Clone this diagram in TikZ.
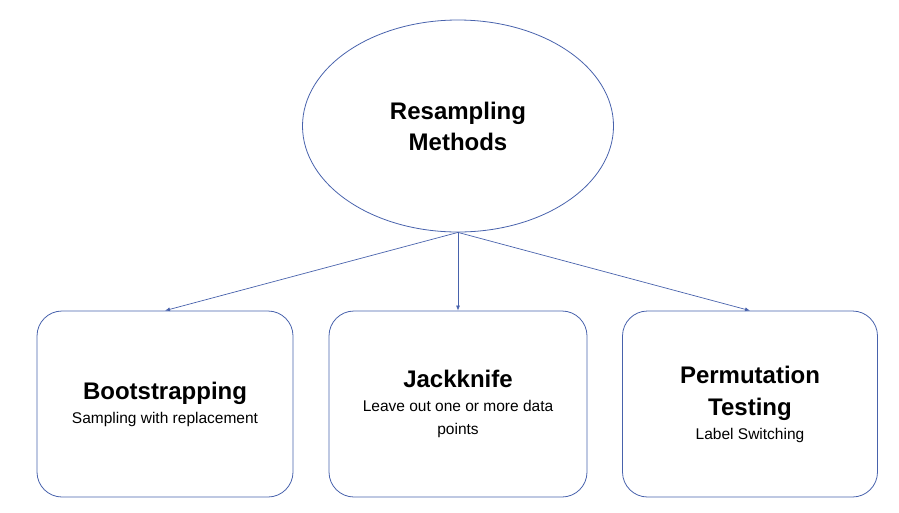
\documentclass[tikz,border=0pt]{standalone}
\usepackage{fontspec}
\setmainfont{Liberation Sans}
\usetikzlibrary{arrows.meta, shapes.geometric}

\definecolor{linkblue}{RGB}{72,98,172}

\newcommand{\headfont}{\fontsize{24}{24}\selectfont\bfseries}
\newcommand{\notefont}{\fontsize{15.5}{24}\selectfont}

\begin{document}
\begin{tikzpicture}[
    x=1pt, y=-1pt,
    root/.style={
        ellipse, draw=linkblue, line width=0.8pt, minimum width=311pt, minimum height=212pt,
        align=center, inner sep=0pt, font=\notefont
    },
    box/.style={
        draw=linkblue, rounded corners=25pt, minimum width=256pt, minimum height=186pt,
        align=center, line width=0.8pt, inner sep=0pt, font=\notefont
    },
    arrow/.style={
        -{Latex[length=5pt, width=4pt]}, line width=0.7pt, linkblue
    }
]
\useasboundingbox (0,0) rectangle (899,512);

\node[root] (resampling) at (458,126) {\headfont Resampling\\[7pt]\headfont Methods};

\node[box] (boot) at (165,404) {\headfont Bootstrapping\\Sampling with replacement};

\node[box, minimum width=258pt] (jack) at (458,404) {\headfont Jackknife\\Leave out one or more data\\[-1pt]points};

\node[box, minimum width=255pt] (perm) at (750,404) {\headfont Permutation\\[8pt]\headfont Testing\\Label Switching};

\draw[arrow] (resampling.south) -- (boot.north);
\draw[arrow] (resampling.south) -- (jack.north);
\draw[arrow] (resampling.south) -- (perm.north);

\end{tikzpicture}
\end{document}
